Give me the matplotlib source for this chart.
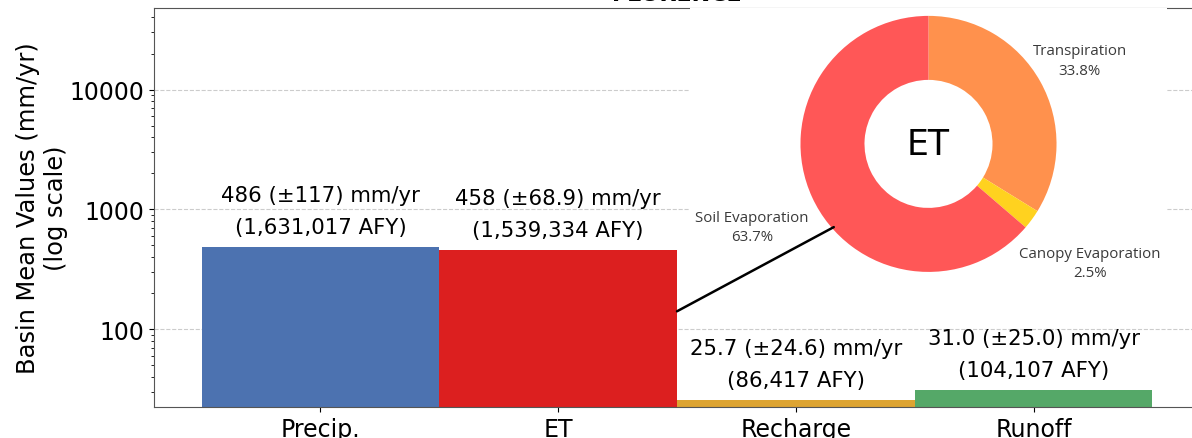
import matplotlib.pyplot as plt
from matplotlib.patches import ConnectionPatch
from matplotlib.ticker import ScalarFormatter, NullFormatter

# bar data (basin means, mm/yr)
categories = ["Precip.", "ET", "Recharge", "Runoff"]
means = [486, 458, 25.7, 31.0]
mean_txt = ["486", "458", "25.7", "31.0"]
stds = ["117", "68.9", "24.6", "25.0"]
afy = ["1,631,017", "1,539,334", "86,417", "104,107"]
bar_colors = ["#4C72B0", "#DC1F1F", "#DDA432", "#55A868"]

# ET partition for the donut
et_parts = ["Transpiration", "Canopy Evaporation", "Soil Evaporation"]
et_pct = [33.8, 2.5, 63.7]
et_colors = ["#FF914D", "#FFD21F", "#FF5757"]

fig = plt.figure(figsize=(11.92, 4.39), dpi=100)
ax = fig.add_axes([0.1292, 0.0706, 0.8775, 0.9089])

x = list(range(len(categories)))
ax.bar(x, means, width=1.0, color=bar_colors, zorder=2)
ax.set_yscale("log")
ax.set_ylim(22.4, 48000)
ax.set_xlim(-0.7, 3.7)
ax.set_xticks(x)
ax.set_xticklabels(categories, fontsize=17)
ax.yaxis.set_major_formatter(ScalarFormatter())
ax.yaxis.set_minor_formatter(NullFormatter())
ax.tick_params(axis="y", labelsize=17)
ax.set_ylabel("Basin Mean Values (mm/yr)\n(log scale)", fontsize=17.4, labelpad=1)
ax.grid(axis="y", which="major", linestyle="--", color="#cccccc", linewidth=0.8, zorder=0)
for s in ax.spines.values():
    s.set_color("#555555")
# title sits mostly above the figure edge, as in the source crop
ax.set_title("FLORENCE", fontsize=16, fontweight="bold", pad=5.6)

# two-line value labels above each bar
for xi, m, mt, sd, a in zip(x, means, mean_txt, stds, afy):
    ax.annotate(f"{mt} (±{sd}) mm/yr", xy=(xi, m), xytext=(0, 52),
                textcoords="offset pixels", ha="center", va="center", fontsize=15.3)
    ax.annotate(f"({a} AFY)", xy=(xi, m), xytext=(0, 20),
                textcoords="offset pixels", ha="center", va="center", fontsize=15.3)

# donut inset
ins = fig.add_axes([690 / 1192, (439 - 300) / 439, 477 / 1192, 291 / 439])
ins.pie(et_pct, colors=et_colors, startangle=90, counterclock=False,
        wedgeprops=dict(width=0.5, edgecolor="none"))
ins.set_xlim(-1.863, 1.863)
ins.set_ylim(-1.21, 1.06)
ins.set_frame_on(True)
ins.patch.set_facecolor("white")
for s in ins.spines.values():
    s.set_visible(False)
ins.text(0, 0, "ET", ha="center", va="center", fontsize=25)

lab_kw = dict(ha="center", va="center", fontsize=10.8, color="#3a3a3a",
              family=["Open Sans", "DejaVu Sans"], linespacing=1.4)
ins.text(1.18, 0.65, f"{et_parts[0]}\n{et_pct[0]}%", **lab_kw)
ins.text(1.26, -0.93, f"{et_parts[1]}\n{et_pct[1]}%", **lab_kw)
ins.text(-1.38, -0.65, f"{et_parts[2]}\n{et_pct[2]}%", **lab_kw)

con = ConnectionPatch(xyA=(1.5, 141), coordsA=ax.transData,
                      xyB=(-0.74, -0.65), coordsB=ins.transData,
                      color="black", linewidth=1.8)
fig.add_artist(con)

fig.savefig("out.png", dpi=100)
